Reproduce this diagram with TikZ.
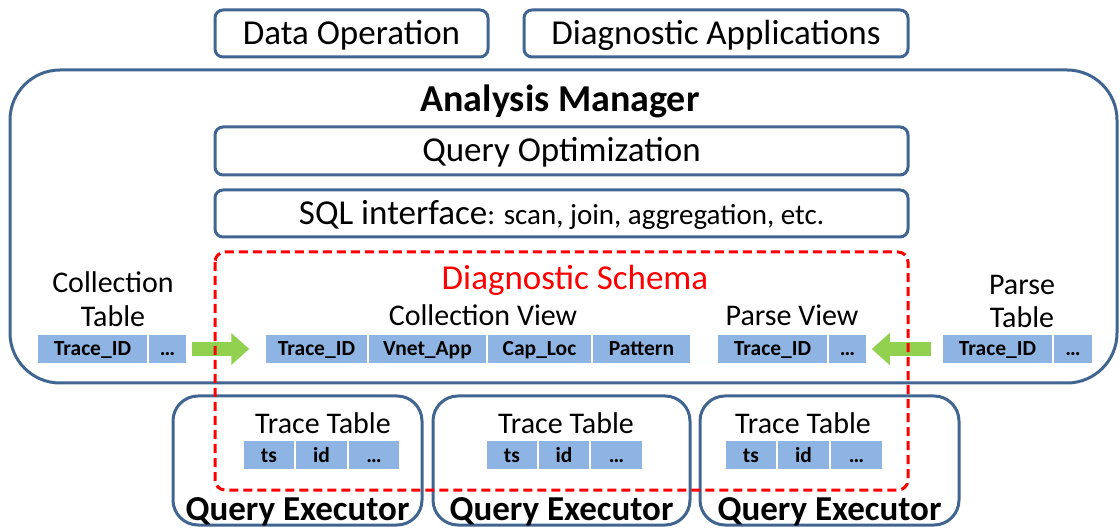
\documentclass[tikz,border=0pt]{standalone}
\usepackage{fontspec}
\setmainfont{Carlito}
\usetikzlibrary{arrows.meta}
\definecolor{boxblue}{RGB}{65,101,145}
\definecolor{cellblue}{RGB}{141,180,226}
\definecolor{arrgreen}{RGB}{146,208,80}
\newcommand{\fsz}[2]{\fontsize{#1}{#2}\selectfont}
\begin{document}
\begin{tikzpicture}[x=1pt,y=-1pt,
  bluebox/.style={draw=boxblue, line width=3pt, rounded corners=8pt, inner sep=0pt},
  qebox/.style={draw=boxblue, line width=3pt, rounded corners=25pt, inner sep=0pt},
  cell/.style={fill=cellblue, draw=white, line width=1.5pt, inner sep=0pt, minimum height=30pt,
    text height=14pt, text depth=0pt, font=\fsz{21.5}{26}\bfseries},
  lbl/.style={inner sep=0pt, anchor=base, font=\fsz{30}{34}},
  big/.style={inner sep=0pt, anchor=base, font=\fsz{35}{42}},
  bigb/.style={inner sep=0pt, anchor=base, font=\fsz{35}{42}\bfseries},
  garrow/.style={draw=arrgreen, line width=14pt, -{Triangle[length=18pt,width=31pt]}},
  schema/.style={draw=red, line width=3pt, dash pattern=on 9pt off 5pt, rounded corners=10pt}
]
\useasboundingbox (0,0) rectangle (1120,529);

% top boxes
\node[bluebox, minimum width=273pt, minimum height=47pt] (dataop) at (351.5,33.5) {};
\node[big] (dataoplbl) at (dataop.center |- 0,45) {Data Operation};
\node[bluebox, minimum width=384pt, minimum height=47pt] (diagapp) at (716,33.5) {};
\node[big] (diagapplbl) at (diagapp.center |- 0,45) {Diagnostic Applications};

% analysis manager
\draw[draw=boxblue, line width=3pt, rounded corners=50pt] (10,70) rectangle (1117,383);
\node[bigb, font=\fsz{38}{44}\bfseries] (am) at (560,112) {Analysis Manager};

\node[bluebox, minimum width=693pt, minimum height=48pt] (qopt) at (561.5,151) {};
\node[big] (qoptlbl) at (qopt.center |- 0,162) {Query Optimization};
\node[bluebox, minimum width=693pt, minimum height=47pt] (sql) at (561.5,213.5) {};
\node[big] (sqllbl) at (sql.center |- 0,225) {SQL interface\fsz{29}{34}: scan, join, aggregation, etc.};

% collection table
\node[lbl] (ctl1) at (113,293) {Collection};
\node[lbl] (ctl2) at (113,327) {Table};
\node[cell, minimum width=111pt] (ct1) at (92.5,349) {Trace\_ID};
\node[cell, minimum width=39pt] (ct2) at (167.5,349) {…};

% diagnostic schema contents
\node[big, text=red] (dslbl) at (575,290) {Diagnostic Schema};
\node[lbl] (cvl) at (483,326) {Collection View};
\node[cell, minimum width=103pt] (cv1) at (316.5,349) {Trace\_ID};
\node[cell, minimum width=119pt] (cv2) at (427.5,349) {Vnet\_App};
\node[cell, minimum width=105pt] (cv3) at (539.5,349) {Cap\_Loc};
\node[cell, minimum width=99pt] (cv4) at (641.5,349) {Pattern};

\node[lbl] (pvl) at (792,326) {Parse View};
\node[cell, minimum width=111pt] (pv1) at (772.5,349) {Trace\_ID};
\node[cell, minimum width=39pt] (pv2) at (847.5,349) {…};

% parse table
\node[lbl] (ptl1) at (1022,295) {Parse};
\node[lbl] (ptl2) at (1022,328) {Table};
\node[cell, minimum width=111pt] (pt1) at (997.5,349) {Trace\_ID};
\node[cell, minimum width=40pt] (pt2) at (1073,349) {…};

% green arrows
\draw[garrow, shorten <=4pt, shorten >=15pt] (ct2.east) -- (cv1.west);
\draw[garrow, shorten <=10pt, shorten >=4pt] (pt1.west) -- (pv2.east);

% query executors
\node[qebox, minimum width=249pt, minimum height=129pt] (qe1) at (297.5,460.5) {};
\node[qebox, minimum width=257pt, minimum height=129pt] (qe2) at (561.5,460.5) {};
\node[qebox, minimum width=259pt, minimum height=129pt] (qe3) at (829.5,460.5) {};
\node[bigb] (qe1lbl) at (qe1.center |- 0,520) {Query Executor};
\node[bigb] (qe2lbl) at (qe2.center |- 0,520) {Query Executor};
\node[bigb] (qe3lbl) at (qe3.center |- 0,520) {Query Executor};

\node[lbl] (tt1l) at (323,433) {Trace Table};
\node[cell, minimum width=52pt] (t11) at (269,455) {ts};
\node[cell, minimum width=53pt] (t12) at (321.5,455) {id};
\node[cell, minimum width=52pt] (t13) at (374,455) {…};

\node[lbl] (tt2l) at (566,433) {Trace Table};
\node[cell, minimum width=52pt] (t21) at (512,455) {ts};
\node[cell, minimum width=52pt] (t22) at (564,455) {id};
\node[cell, minimum width=53pt] (t23) at (616.5,455) {…};

\node[lbl] (tt3l) at (803,433) {Trace Table};
\node[cell, minimum width=52pt] (t31) at (751,455) {ts};
\node[cell, minimum width=53pt] (t32) at (803.5,455) {id};
\node[cell, minimum width=53pt] (t33) at (856.5,455) {…};

% diagnostic schema dashed frame
\draw[schema] (215,252) rectangle (908,490);
\end{tikzpicture}
\end{document}
